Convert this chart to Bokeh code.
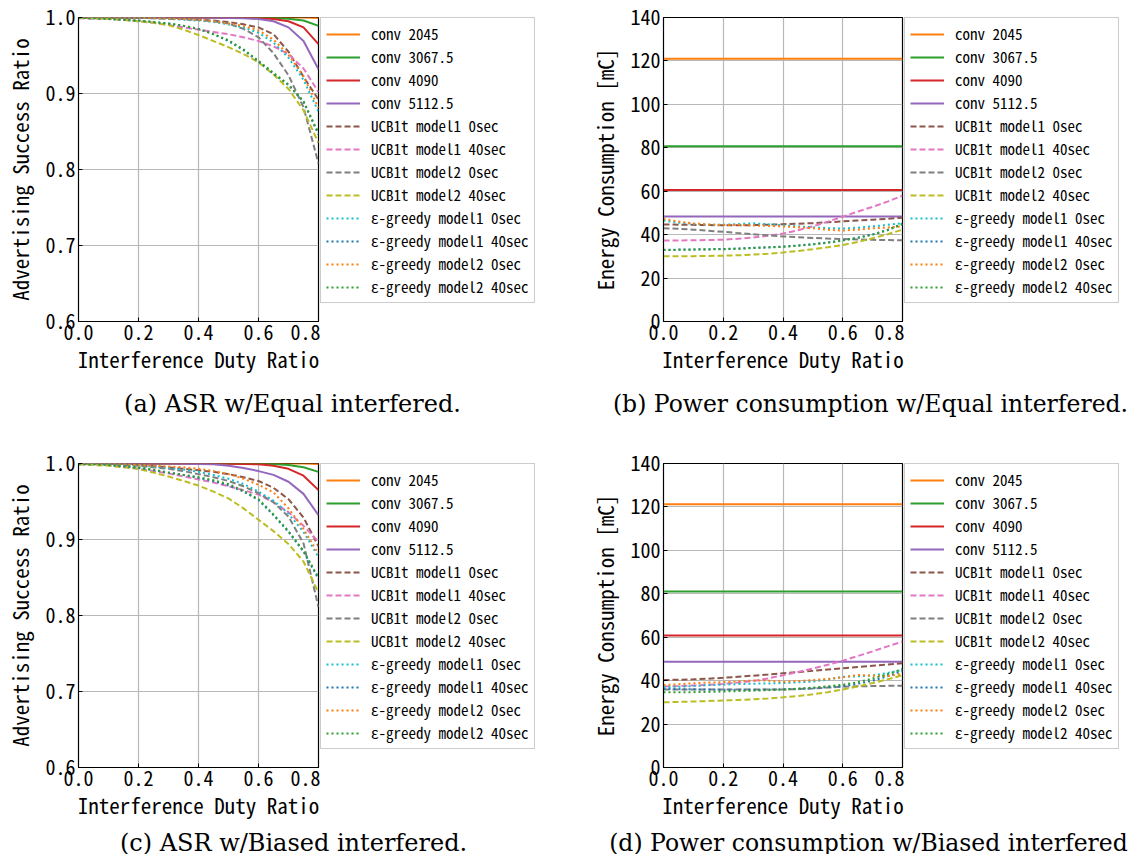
from bokeh.plotting import figure
from bokeh.models import (Range1d, FixedTicker, PrintfTickFormatter, Legend, LegendItem)
from bokeh.layouts import column, row
from bokeh.core.properties import value
from bokeh.embed import file_html
from bokeh.resources import INLINE

# ---------------- data ----------------
duty = [0.0, 0.05, 0.1, 0.15, 0.2, 0.25, 0.3, 0.35, 0.4, 0.45, 0.5, 0.55, 0.6, 0.65, 0.7, 0.75, 0.8]

series_labels = ["conv 2045", "conv 3067.5", "conv 4090", "conv 5112.5",
                 "UCB1t model1 0sec", "UCB1t model1 40sec", "UCB1t model2 0sec", "UCB1t model2 40sec",
                 "ε-greedy model1 0sec", "ε-greedy model1 40sec", "ε-greedy model2 0sec", "ε-greedy model2 40sec"]
series_colors = ["#ff7f0e", "#2ca02c", "#d62728", "#9467bd",
                 "#8c564b", "#e377c2", "#7f7f7f", "#bcbd22",
                 "#17becf", "#1f77b4", "#ff7f0e", "#2ca02c"]
series_dash = ["solid"] * 4 + ["dashed"] * 4 + ["dotted"] * 4

# (a) ASR, equal interference
asr_equal = [
    [1.0, 1.0, 1.0, 1.0, 1.0, 1.0, 1.0, 1.0, 1.0, 1.0, 1.0, 1.0, 1.0, 1.0, 1.0, 1.0, 0.9995],
    [1.0, 1.0, 1.0, 1.0, 1.0, 1.0, 1.0, 1.0, 1.0, 1.0, 1.0, 1.0, 0.9998, 0.9995, 0.9985, 0.996, 0.989],
    [1.0, 1.0, 1.0, 1.0, 1.0, 1.0, 1.0, 1.0, 1.0, 1.0, 0.9998, 0.9996, 0.999, 0.998, 0.995, 0.987, 0.965],
    [1.0, 1.0, 1.0, 1.0, 1.0, 1.0, 1.0, 1.0, 1.0, 0.9998, 0.9995, 0.999, 0.998, 0.995, 0.987, 0.969, 0.932],
    [1.0, 1.0, 1.0, 0.9998, 0.9995, 0.999, 0.9985, 0.998, 0.997, 0.996, 0.994, 0.991, 0.987, 0.978, 0.955, 0.922, 0.892],
    [0.999, 0.9985, 0.998, 0.997, 0.995, 0.993, 0.990, 0.987, 0.984, 0.981, 0.978, 0.974, 0.969, 0.962, 0.952, 0.933, 0.902],
    [1.0, 1.0, 1.0, 1.0, 0.9998, 0.9995, 0.999, 0.998, 0.997, 0.995, 0.992, 0.985, 0.974, 0.953, 0.924, 0.882, 0.808],
    [0.9995, 0.999, 0.998, 0.997, 0.995, 0.993, 0.990, 0.984, 0.977, 0.969, 0.961, 0.952, 0.941, 0.925, 0.906, 0.878, 0.835],
    [1.0, 1.0, 1.0, 1.0, 0.9995, 0.999, 0.998, 0.997, 0.996, 0.994, 0.991, 0.987, 0.980, 0.967, 0.947, 0.918, 0.876],
    [0.9995, 0.999, 0.998, 0.997, 0.996, 0.994, 0.992, 0.989, 0.985, 0.978, 0.969, 0.957, 0.942, 0.926, 0.911, 0.889, 0.846],
    [1.0, 1.0, 1.0, 1.0, 0.9997, 0.9993, 0.9987, 0.998, 0.997, 0.995, 0.992, 0.989, 0.983, 0.971, 0.951, 0.923, 0.881],
    [0.9995, 0.999, 0.998, 0.997, 0.996, 0.994, 0.992, 0.989, 0.985, 0.978, 0.970, 0.958, 0.943, 0.927, 0.912, 0.890, 0.848],
]

# (b) energy, equal interference
energy_equal = [
    [121.0, 121.0, 121.0, 121.0, 121.0, 121.0, 121.0, 121.0, 121.0, 121.0, 121.0, 121.0, 121.0, 121.0, 121.0, 121.0, 121.0],
    [80.7, 80.7, 80.7, 80.7, 80.7, 80.7, 80.7, 80.7, 80.7, 80.7, 80.7, 80.7, 80.7, 80.7, 80.7, 80.7, 80.7],
    [60.6, 60.6, 60.6, 60.6, 60.6, 60.6, 60.6, 60.6, 60.6, 60.6, 60.6, 60.6, 60.6, 60.6, 60.6, 60.6, 60.6],
    [48.4, 48.4, 48.4, 48.4, 48.4, 48.4, 48.4, 48.4, 48.4, 48.4, 48.4, 48.4, 48.4, 48.4, 48.4, 48.4, 48.4],
    [44.7, 44.6, 44.5, 44.4, 44.3, 44.3, 44.4, 44.6, 44.8, 45.0, 45.3, 45.7, 46.1, 46.5, 46.9, 47.3, 47.8],
    [37.3, 37.3, 37.4, 37.5, 37.7, 38.1, 38.7, 39.5, 40.5, 42.0, 43.8, 46.0, 48.3, 50.6, 52.8, 55.2, 58.0],
    [43.0, 42.7, 42.3, 41.8, 41.3, 40.7, 40.2, 39.7, 39.2, 38.8, 38.5, 38.2, 38.0, 37.8, 37.6, 37.5, 37.4],
    [30.1, 30.1, 30.1, 30.2, 30.3, 30.5, 30.8, 31.2, 31.8, 32.5, 33.3, 34.2, 35.2, 36.6, 38.3, 40.2, 42.3],
    [46.5, 45.5, 45.0, 44.6, 44.5, 44.9, 45.2, 44.8, 44.3, 43.8, 43.4, 43.0, 42.8, 43.2, 43.8, 44.5, 45.3],
    [33.0, 33.1, 33.2, 33.3, 33.4, 33.6, 33.9, 34.2, 34.5, 35.0, 35.6, 36.4, 37.4, 38.6, 40.1, 42.2, 45.0],
    [47.3, 46.0, 45.2, 44.7, 44.4, 44.5, 44.2, 44.0, 43.8, 43.4, 42.9, 42.2, 41.9, 42.3, 42.9, 43.3, 43.8],
    [32.9, 33.0, 33.1, 33.2, 33.3, 33.5, 33.8, 34.1, 34.4, 34.9, 35.5, 36.3, 37.3, 38.5, 40.0, 42.0, 44.8],
]

# (c) ASR, biased interference
asr_biased = [
    [1.0, 1.0, 1.0, 1.0, 1.0, 1.0, 1.0, 1.0, 1.0, 1.0, 1.0, 1.0, 1.0, 1.0, 1.0, 1.0, 0.9995],
    [1.0, 1.0, 1.0, 1.0, 1.0, 1.0, 1.0, 1.0, 1.0, 1.0, 1.0, 1.0, 0.9998, 0.9995, 0.998, 0.995, 0.989],
    [1.0, 1.0, 1.0, 1.0, 1.0, 1.0, 1.0, 1.0, 1.0, 1.0, 0.9998, 0.9995, 0.999, 0.997, 0.993, 0.984, 0.965],
    [1.0, 1.0, 1.0, 1.0, 1.0, 1.0, 1.0, 0.9998, 0.9995, 0.999, 0.997, 0.994, 0.990, 0.985, 0.976, 0.960, 0.932],
    [1.0, 1.0, 0.9995, 0.999, 0.998, 0.997, 0.995, 0.993, 0.991, 0.989, 0.986, 0.982, 0.977, 0.968, 0.953, 0.929, 0.891],
    [0.999, 0.999, 0.998, 0.996, 0.993, 0.990, 0.987, 0.983, 0.979, 0.975, 0.970, 0.965, 0.959, 0.949, 0.936, 0.918, 0.897],
    [1.0, 1.0, 0.999, 0.998, 0.997, 0.995, 0.993, 0.990, 0.986, 0.982, 0.977, 0.970, 0.961, 0.949, 0.930, 0.895, 0.811],
    [0.999, 0.998, 0.997, 0.995, 0.993, 0.988, 0.983, 0.977, 0.971, 0.963, 0.954, 0.941, 0.926, 0.911, 0.894, 0.871, 0.830],
    [1.0, 1.0, 0.9995, 0.999, 0.998, 0.996, 0.994, 0.992, 0.989, 0.985, 0.980, 0.973, 0.963, 0.951, 0.934, 0.910, 0.877],
    [0.999, 0.999, 0.998, 0.996, 0.994, 0.991, 0.988, 0.985, 0.981, 0.977, 0.971, 0.963, 0.952, 0.932, 0.910, 0.884, 0.848],
    [1.0, 1.0, 0.9995, 0.999, 0.998, 0.997, 0.996, 0.995, 0.993, 0.990, 0.986, 0.980, 0.972, 0.962, 0.941, 0.914, 0.881],
    [0.999, 0.999, 0.998, 0.997, 0.995, 0.992, 0.988, 0.985, 0.982, 0.978, 0.973, 0.964, 0.953, 0.933, 0.911, 0.885, 0.850],
]

# (d) energy, biased interference
energy_biased = [
    [121.2, 121.2, 121.2, 121.2, 121.2, 121.2, 121.2, 121.2, 121.2, 121.2, 121.2, 121.2, 121.2, 121.2, 121.2, 121.2, 121.2],
    [81.0, 81.0, 81.0, 81.0, 81.0, 81.0, 81.0, 81.0, 81.0, 81.0, 81.0, 81.0, 81.0, 81.0, 81.0, 81.0, 81.0],
    [60.8, 60.8, 60.8, 60.8, 60.8, 60.8, 60.8, 60.8, 60.8, 60.8, 60.8, 60.8, 60.8, 60.8, 60.8, 60.8, 60.8],
    [48.7, 48.7, 48.7, 48.7, 48.7, 48.7, 48.7, 48.7, 48.7, 48.7, 48.7, 48.7, 48.7, 48.7, 48.7, 48.7, 48.7],
    [40.3, 40.4, 40.6, 40.9, 41.3, 41.8, 42.3, 42.8, 43.4, 43.9, 44.5, 45.1, 45.7, 46.3, 46.9, 47.4, 48.0],
    [37.3, 37.5, 37.8, 38.1, 38.5, 39.1, 39.8, 41.0, 42.5, 44.0, 45.6, 47.3, 49.2, 51.3, 53.5, 55.8, 58.0],
    [35.9, 35.9, 35.9, 35.9, 35.9, 35.9, 35.9, 35.9, 35.9, 36.1, 36.4, 36.8, 37.2, 37.4, 37.5, 37.6, 37.6],
    [30.0, 30.2, 30.4, 30.6, 30.9, 31.1, 31.4, 31.8, 32.3, 32.9, 33.7, 34.7, 35.9, 37.3, 38.9, 40.6, 42.5],
    [37.0, 37.2, 37.5, 37.9, 38.2, 38.4, 38.6, 38.7, 38.9, 39.2, 39.6, 40.5, 41.8, 42.0, 42.4, 43.5, 45.0],
    [36.2, 36.1, 36.0, 35.9, 35.8, 35.8, 35.8, 35.9, 36.0, 36.2, 36.5, 37.0, 37.5, 38.6, 40.0, 42.0, 44.5],
    [38.0, 38.3, 38.8, 39.1, 39.3, 39.6, 40.1, 40.0, 39.5, 39.8, 40.3, 40.8, 41.5, 42.6, 42.3, 42.1, 43.2],
    [34.6, 34.6, 34.7, 34.8, 35.0, 35.2, 35.4, 35.6, 35.9, 36.3, 36.8, 37.4, 38.1, 39.3, 41.0, 43.0, 45.3],
]

x_ticks = [0.0, 0.2, 0.4, 0.6, 0.8]
asr_ticks = [0.6, 0.7, 0.8, 0.9, 1.0]
energy_ticks = [0, 20, 40, 60, 80, 100, 120, 140]

x_label = "Interference Duty Ratio"
asr_label = "Advertising Success Ratio"
energy_label = "Energy Consumption [mC]"
captions = ["(a) ASR w/Equal interfered.", "(b) Power consumption w/Equal interfered.",
            "(c) ASR w/Biased interfered.", "(d) Power consumption w/Biased interfered"]

# ---------------- styling ----------------
MONO = "'Noto Sans Mono CJK JP', 'DejaVu Sans Mono', monospace"
SERIF = "DejaVu Serif"
DASHES = {"solid": "solid", "dashed": "6 3", "dotted": "2 3"}
FRAME_H = 304
BOTTOM = 64


def blank(p):
    p.grid.visible = False
    p.outline_line_color = None
    p.background_fill_color = "white"
    p.border_fill_color = "white"


def make_plot(values, yrange, yticks, yfmt, ylabel, left, frame_w, top):
    p = figure(width=left + frame_w + 2, height=top + FRAME_H + BOTTOM,
               output_backend="svg", toolbar_location=None,
               x_range=Range1d(0, 0.8), y_range=Range1d(*yrange),
               min_border_left=left, min_border_right=2,
               min_border_top=top, min_border_bottom=BOTTOM)
    p.outline_line_color = "black"
    p.outline_line_width = 1.2
    p.outline_line_alpha = 1.0
    p.background_fill_color = "white"
    p.border_fill_color = "white"

    p.xaxis.ticker = FixedTicker(ticks=x_ticks)
    p.xaxis.formatter = PrintfTickFormatter(format="%.1f")
    p.yaxis.ticker = FixedTicker(ticks=yticks)
    p.yaxis.formatter = PrintfTickFormatter(format=yfmt)
    p.xaxis.axis_label = x_label
    p.yaxis.axis_label = ylabel
    for ax in (p.xaxis, p.yaxis):
        ax.major_tick_in = 4
        ax.major_tick_out = 0
        ax.minor_tick_in = 0
        ax.minor_tick_out = 0
        ax.axis_line_color = "black"
        ax.major_tick_line_color = "black"
        ax.major_label_text_font = MONO
        ax.major_label_text_font_size = "20px"
        ax.major_label_text_color = "black"
        ax.axis_label_text_font = MONO
        ax.axis_label_text_font_size = "21px"
        ax.axis_label_text_font_style = "normal"
        ax.axis_label_text_color = "black"
        ax.major_label_standoff = 3
    p.xaxis.axis_label_standoff = 1
    p.yaxis.axis_label_standoff = 8
    p.grid.grid_line_color = "#b8b8b8"
    p.grid.grid_line_width = 1.2

    for vals, col, dash in zip(values, series_colors, series_dash):
        p.line(duty, vals, line_color=col, line_width=2, line_dash=DASHES[dash])
    return p


def make_legend(values, width, height, top):
    # legend-only figure: the series are drawn outside its visible range,
    # only their legend entries show
    f = figure(width=width, height=height, output_backend="svg", toolbar_location=None,
               x_axis_type=None, y_axis_type=None,
               x_range=Range1d(10, 11), y_range=Range1d(10, 11),
               min_border_left=0, min_border_right=0, min_border_top=top, min_border_bottom=0)
    blank(f)
    items = []
    for vals, lab, col, dash in zip(values, series_labels, series_colors, series_dash):
        r = f.line(duty, vals, line_color=col, line_width=2, line_dash=DASHES[dash])
        items.append(LegendItem(label=lab, renderers=[r]))
    leg = Legend(items=items, location="top_left", margin=0, padding=5, spacing=2,
                 label_height=20, glyph_height=20, glyph_width=34, label_standoff=11,
                 label_text_font=MONO, label_text_font_size="15px", label_text_color="black",
                 border_line_color="#cccccc", border_line_width=1, border_line_alpha=1.0,
                 background_fill_color="white", background_fill_alpha=1.0)
    f.add_layout(leg)
    return f


def make_caption(width, height, text, cx, cy, size):
    f = figure(width=width, height=height, output_backend="svg", toolbar_location=None,
               x_axis_type=None, y_axis_type=None,
               x_range=Range1d(0, width), y_range=Range1d(0, height),
               min_border_left=0, min_border_right=0, min_border_top=0, min_border_bottom=0)
    blank(f)
    f.text(x=[cx], y=[cy], text=[text], text_font=value(SERIF), text_font_size=size,
           text_align="center", text_baseline="middle", text_color="black")
    return f


TOP_H = 17 + FRAME_H + BOTTOM      # 385
BOT_H = 10 + FRAME_H + BOTTOM      # 378

pa = make_plot(asr_equal, (0.6, 1.0), asr_ticks, "%.1f", asr_label, 78, 240, 17)
la = make_legend(asr_equal, 262, TOP_H, 17)
pb = make_plot(energy_equal, (0, 140), energy_ticks, "%d", energy_label, 81, 239, 17)
lb = make_legend(energy_equal, 226, TOP_H, 17)

ca = make_caption(582, 68, captions[0], 292, 50, "24px")
cb = make_caption(548, 68, captions[1], 288, 50, "23.5px")

pc = make_plot(asr_biased, (0.6, 1.0), asr_ticks, "%.1f", asr_label, 78, 240, 10)
lc = make_legend(asr_biased, 262, BOT_H, 10)
pd = make_plot(energy_biased, (0, 140), energy_ticks, "%d", energy_label, 81, 239, 10)
ld = make_legend(energy_biased, 226, BOT_H, 10)

cc = make_caption(582, 23, captions[2], 293, 12, "24px")
cd = make_caption(548, 23, captions[3], 286, 12, "23.5px")

layout = column(row(pa, la, pb, lb), row(ca, cb), row(pc, lc, pd, ld), row(cc, cd))

open("out.html", "w").write(file_html(layout, INLINE))
